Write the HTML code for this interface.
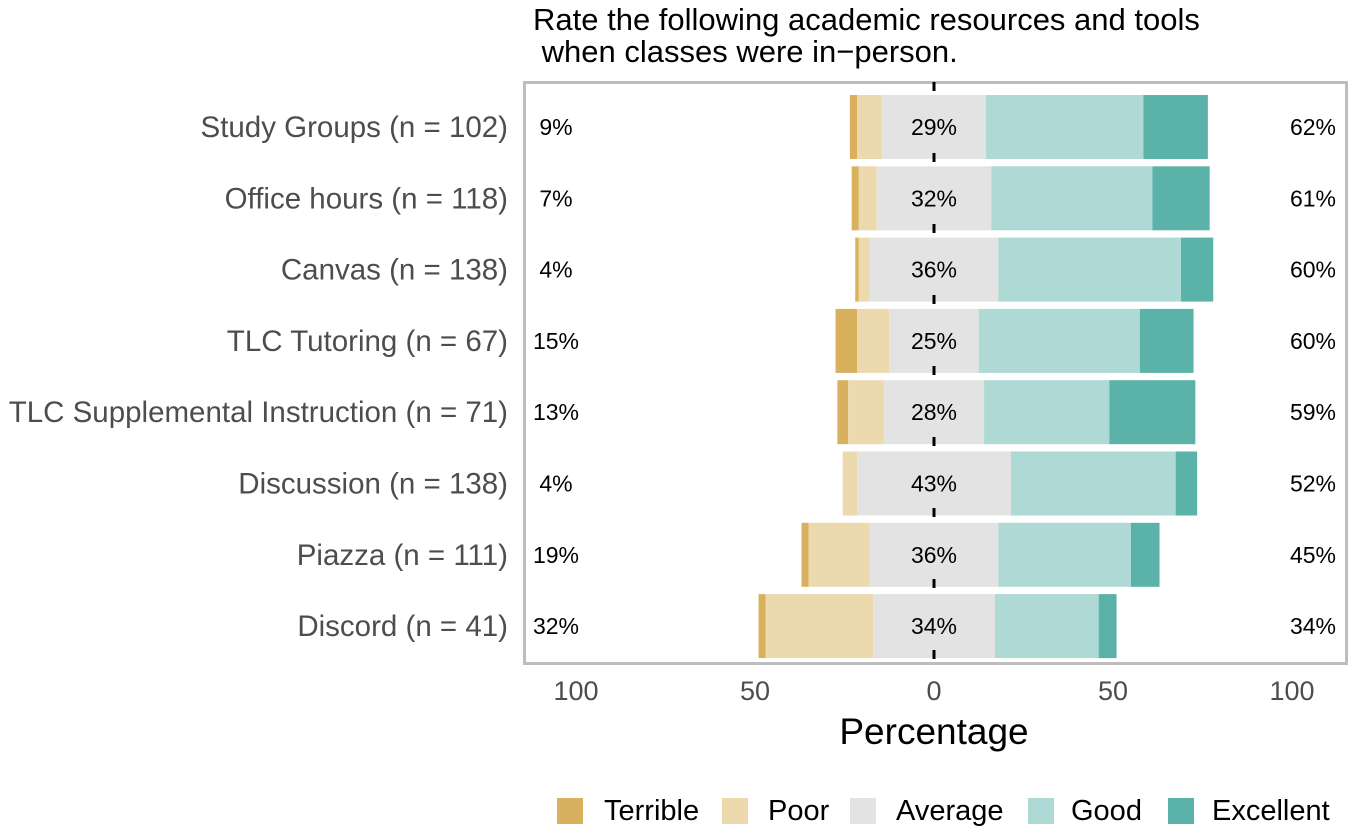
<!DOCTYPE html>
<html><head><meta charset="utf-8"><style>
body{margin:0;background:#fff;}
svg{display:block;font-family:"Liberation Sans",sans-serif;}
</style></head><body>
<svg id="chart" width="1350" height="829">
<text x="533" y="30" font-size="31" fill="#000">Rate the following academic resources and tools</text>
<text x="533" y="62" font-size="31" fill="#000" xml:space="preserve"> when classes were in−person.</text>
<rect x="524.5" y="82.5" width="822" height="581" fill="none" stroke="#bdbdbd" stroke-width="3"/>
<g id="bars"></g>
<line x1="934" y1="82" x2="934" y2="664" stroke="#000" stroke-width="3" stroke-dasharray="9,62" stroke-dashoffset="0"/>
<g id="labels"></g>
<g id="xticks"></g>
<text x="934" y="744" font-size="37" text-anchor="middle" fill="#000">Percentage</text>
<g id="legend"></g>
</svg>
<script>
const categories=["Study Groups (n = 102)","Office hours (n = 118)","Canvas (n = 138)","TLC Tutoring (n = 67)","TLC Supplemental Instruction (n = 71)","Discussion (n = 138)","Piazza (n = 111)","Discord (n = 41)"];
const terrible=[2,2,1,6,3,0,2,2];
const poor=[7,5,3,9,10,4,17,30];
const average=[29,32,36,25,28,43,36,34];
const good=[44,45,51,45,35,46,37,29];
const excellent=[18,16,9,15,24,6,8,5];
const leftLabels=["9%","7%","4%","15%","13%","4%","19%","32%"];
const midLabels=["29%","32%","36%","25%","28%","43%","36%","34%"];
const rightLabels=["62%","61%","60%","60%","59%","52%","45%","34%"];
const xTicks=[-100,-50,0,50,100];
const xTickLabels=["100","50","0","50","100"];
const levels=["Terrible","Poor","Average","Good","Excellent"];
const colors=["#d9b15e","#ecd9ad","#e3e3e3","#aed9d5","#5ab2a9"];
const NS="http://www.w3.org/2000/svg";
const x=v=>934+v*3.58;
const yc=i=>127+i*71.3;
const BH=64;
function mk(tag,attrs,parent){const e=document.createElementNS(NS,tag);for(const k in attrs)e.setAttribute(k,attrs[k]);parent.appendChild(e);return e;}
const bars=document.getElementById('bars'),labels=document.getElementById('labels');
categories.forEach((c,i)=>{
  const vals=[terrible[i],poor[i],average[i],good[i],excellent[i]];
  let start=-(terrible[i]+poor[i]+average[i]/2);
  vals.forEach((v,k)=>{
    if(v>0){
      const r=mk('rect',{x:x(start),y:yc(i)-BH/2,width:v*3.58,height:BH,fill:colors[k]},bars);
      
      
    }
    start+=v;
  });
  const t=mk('text',{x:508,y:yc(i)+10,'font-size':29.5,'text-anchor':'end',fill:'#4d4d4d'},labels);t.textContent=c;
  
  
  const a=mk('text',{x:556,y:yc(i)+8,'font-size':23,'text-anchor':'middle',fill:'#000'},labels);a.textContent=leftLabels[i];
  
  
  const b=mk('text',{x:934,y:yc(i)+8,'font-size':23,'text-anchor':'middle',fill:'#000'},labels);b.textContent=midLabels[i];
  
  
  const d=mk('text',{x:1313,y:yc(i)+8,'font-size':23,'text-anchor':'middle',fill:'#000'},labels);d.textContent=rightLabels[i];
  
  
});
const xt=document.getElementById('xticks');
xTicks.forEach((v,i)=>{
  const t=mk('text',{x:x(v),y:700,'font-size':27,'text-anchor':'middle',fill:'#4d4d4d'},xt);t.textContent=xTickLabels[i];
  
  
});
const lg=document.getElementById('legend');
const sqX=[557,722,850,1028,1168],txX=[604,768,896,1071,1212];
levels.forEach((l,k)=>{
  const g=mk('g',{},lg);
  
  
  mk('rect',{x:sqX[k],y:798,width:26,height:26,fill:colors[k]},g);
  const t=mk('text',{x:txX[k],y:820,'font-size':29,fill:'#000'},g);t.textContent=l;
});
</script>
</body></html>
